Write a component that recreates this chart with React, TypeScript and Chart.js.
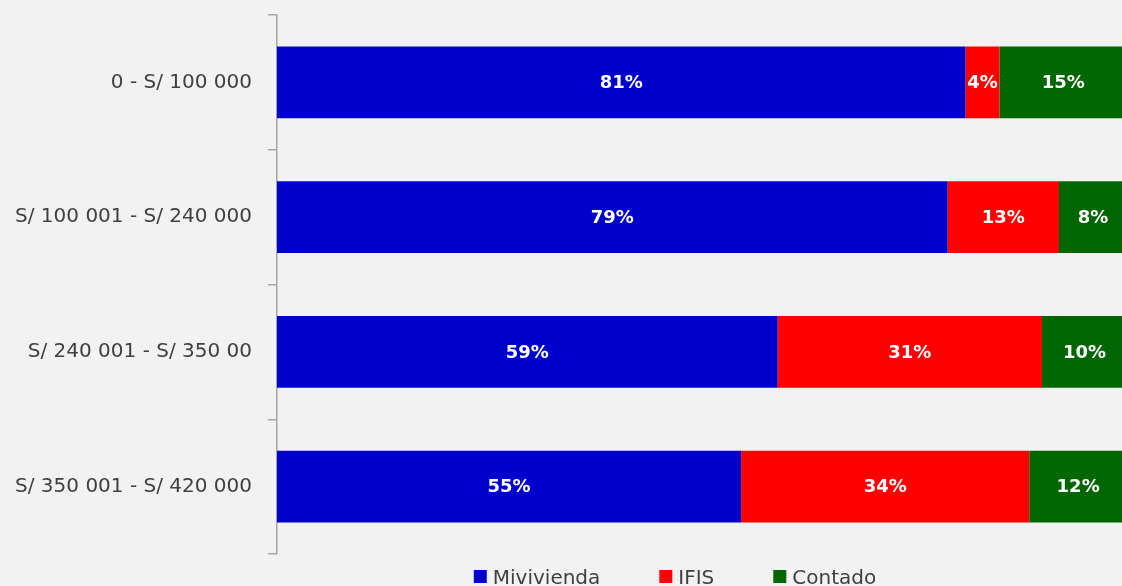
import React, { useEffect, useRef } from "react";
import { Chart, registerables } from "chart.js";

Chart.register(...registerables);

const categories = [
  "0 - S/ 100 000",
  "S/ 100 001 - S/ 240 000",
  "S/ 240 001 - S/ 350 00",
  "S/ 350 001 - S/ 420 000",
];
const mivivienda = [81, 78.9, 58.9, 54.6];
const ifis = [4, 13.1, 31.1, 33.9];
const contado = [15, 8, 10, 11.5];
const seriesNames = ["Mivivienda", "IFIS", "Contado"];
const seriesColors = ["#0000CC", "#FF0000", "#006600"];

const FONT = '"DejaVu Sans", sans-serif';

const dataLabelPlugin = {
  id: "dataLabels",
  afterDatasetsDraw(chart: any) {
    const ctx = chart.ctx;
    ctx.save();
    ctx.font = `bold 18px ${FONT}`;
    ctx.fillStyle = "#FFFFFF";
    ctx.textAlign = "center";
    ctx.textBaseline = "middle";
    chart.data.datasets.forEach((ds: any, di: number) => {
      const meta = chart.getDatasetMeta(di);
      meta.data.forEach((el: any, i: number) => {
        const v = ds.data[i];
        const cx = (el.x + el.base) / 2;
        ctx.fillText(`${Math.round(v)}%`, cx, el.y + 1);
      });
    });
    ctx.restore();
  },
};

const legendPlugin = {
  id: "customLegend",
  afterDraw(chart: any) {
    const ctx = chart.ctx;
    ctx.save();
    ctx.font = `20px ${FONT}`;
    const box = 13;
    const gap = 6;
    const spacing = 59;
    const widths = seriesNames.map((n) => ctx.measureText(n).width);
    const total =
      widths.reduce((a, b) => a + b, 0) + seriesNames.length * (box + gap) + (seriesNames.length - 1) * spacing;
    let x = 675 - total / 2;
    const baseline = chart.chartArea.bottom + 30;
    seriesNames.forEach((n, i) => {
      ctx.fillStyle = seriesColors[i];
      ctx.fillRect(x, baseline - 14, box, box);
      x += box + gap;
      ctx.fillStyle = "#404040";
      ctx.textAlign = "left";
      ctx.textBaseline = "alphabetic";
      ctx.fillText(n, x, baseline);
      x += widths[i] + spacing;
    });
    ctx.restore();
  },
};

export default function App() {
  const ref = useRef<HTMLCanvasElement>(null);

  useEffect(() => {
    document.body.style.margin = "0";
    const data = [mivivienda, ifis, contado];
    const chart = new Chart(ref.current as HTMLCanvasElement, {
      type: "bar",
      data: {
        labels: categories,
        datasets: seriesNames.map((name, i) => ({
          label: name,
          data: data[i],
          backgroundColor: seriesColors[i],
          borderWidth: 0,
          barPercentage: 0.534,
          categoryPercentage: 1,
        })),
      },
      options: {
        indexAxis: "y",
        animation: false,
        responsive: false,
        maintainAspectRatio: false,
        layout: { padding: { top: 15, bottom: 32, left: 0, right: 0 } },
        plugins: {
          legend: { display: false },
          tooltip: { enabled: false },
        },
        scales: {
          x: {
            stacked: true,
            min: 0,
            max: 100,
            display: false,
          },
          y: {
            stacked: true,
            afterFit(scale: any) {
              scale.width = 277;
              scale.paddingTop = 0;
              scale.paddingBottom = 0;
            },
            border: { display: true, color: "#A6A6A6", width: 1.5 },
            grid: {
              display: true,
              drawOnChartArea: false,
              drawTicks: true,
              tickLength: 9,
              color: "#A6A6A6",
              lineWidth: 1.5,
              offset: true,
            },
            ticks: {
              padding: 16,
              color: "#404040",
              font: { family: FONT, size: 20 },
            },
          },
        },
      },
      plugins: [dataLabelPlugin, legendPlugin],
    } as any);
    return () => chart.destroy();
  }, []);

  return (
    <div
      style={{
        position: "fixed",
        left: 0,
        top: 0,
        width: 1122,
        height: 586,
        overflow: "hidden",
        background: "#F2F2F2",
      }}
    >
      <canvas ref={ref} width={1127} height={586} style={{ display: "block" }} />
    </div>
  );
}
